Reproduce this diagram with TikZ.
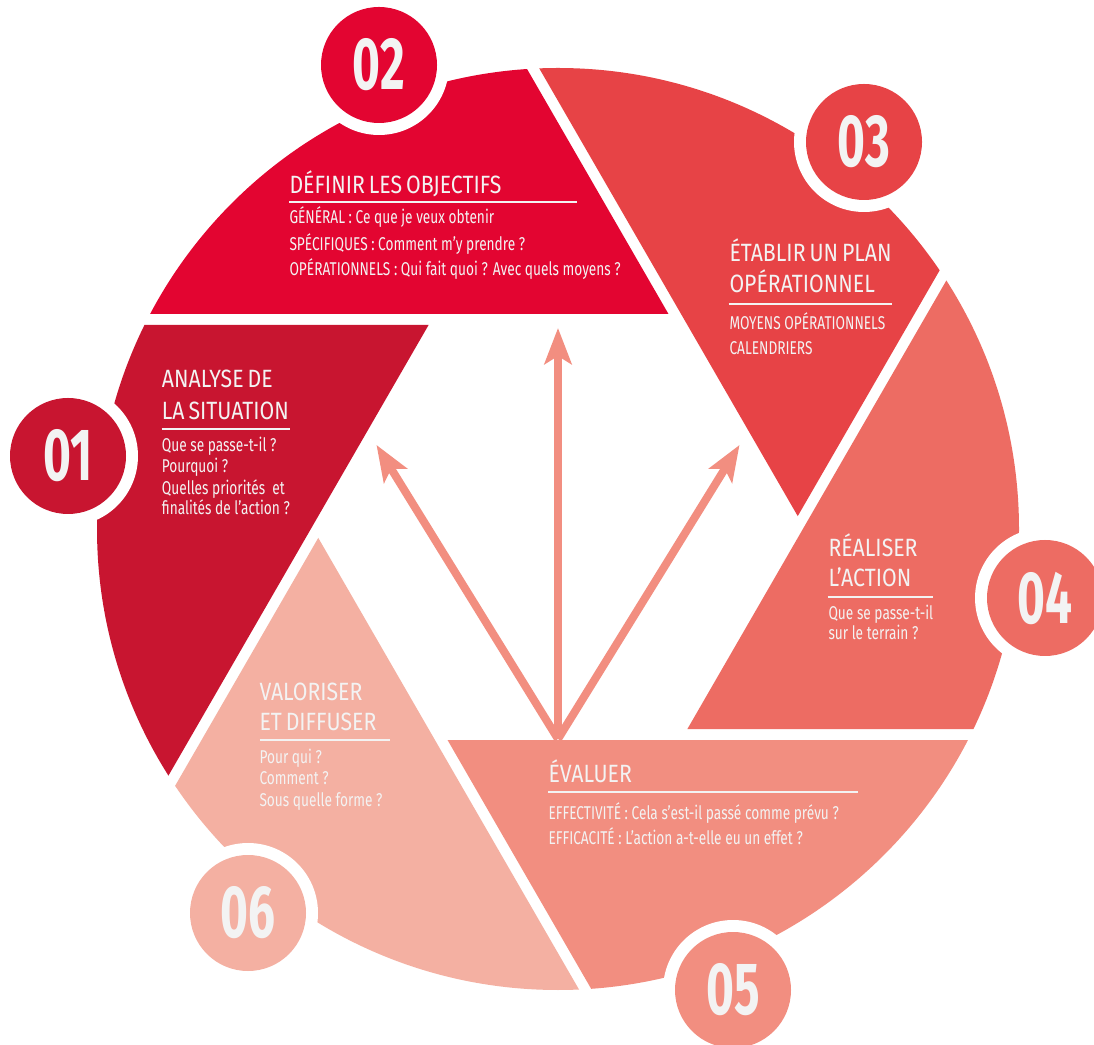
\documentclass[tikz,border=0pt]{standalone}
\usepackage{fontspec}
\setmainfont{Fira Sans}
\newfontfamily\titlef{Fira Sans}[FakeStretch=0.85,WordSpace=0.7]
\newfontfamily\bodyf{Fira Sans}[FakeStretch=0.74]
\newfontfamily\numf{Fira Sans}[FakeStretch=0.645]
\usetikzlibrary{arrows.meta}
\definecolor{cA}{HTML}{C81530}
\definecolor{cB}{HTML}{E30531}
\definecolor{cC}{HTML}{E74346}
\definecolor{cD}{HTML}{ED6C63}
\definecolor{cE}{HTML}{F28E80}
\definecolor{cF}{HTML}{F4B0A2}
\definecolor{txt}{HTML}{F3F3F3}
\tikzset{
  ttl/.style={anchor=base west, inner sep=0pt, text=txt, font=\titlef\fontsize{25}{25}\selectfont},
  bdy/.style={anchor=base west, inner sep=0pt, text=txt, font=\bodyf\fontsize{18.5}{18.5}\selectfont},
  numc/.style={circle, inner sep=0pt, minimum size=116pt, text=txt, font=\numf\bfseries\fontsize{74}{74}\selectfont},
  uline/.style={draw=txt, line width=2.4pt},
  arr/.style={draw=cE, line width=8pt, -{Stealth[length=36pt,width=27pt,inset=8pt]}},
}
\begin{document}
\begin{tikzpicture}[x=1pt,y=1pt]
\useasboundingbox (0,0) rectangle (1094,1044);
\fill[white] (0,0) rectangle (1094,1044);
\coordinate (H) at (558,517);
\coordinate (C) at (558,515);
\path (H) ++(62.6:240) coordinate (P2);
\path (H) ++(2.6:240) coordinate (P3);
\path (H) ++(-57.4:240) coordinate (P4);
\path (H) ++(-117.4:240) coordinate (P5);
\path (H) ++(-177.4:240) coordinate (P6);
\path (H) ++(122.6:240) coordinate (P1);
% blades
\begin{scope}
  \clip (C) circle (461);
  \fill[cB] (P2) -- ++(120:1200) -- ++(240:1200) -- cycle;
  \fill[cC] (P3) -- ++(60:1200) -- ++(180:1200) -- cycle;
  \fill[cD] (P4) -- ++(0:1200) -- ++(120:1200) -- cycle;
  \fill[cE] (P5) -- ++(-60:1200) -- ++(60:1200) -- cycle;
  \fill[cF] (P6) -- ++(-120:1200) -- ++(0:1200) -- cycle;
  \fill[cA] (P1) -- ++(180:1200) -- ++(300:1200) -- cycle;
\end{scope}
% arrows
\coordinate (src) at (558,305);
\coordinate (tU) at (558,716);
\coordinate (tL) at (376.5,599);
\coordinate (tR) at (739.5,599);
\draw[arr] (src) -- (tU);
\draw[arr] (src) -- (tL);
\draw[arr] (src) -- (tR);
% number badges
\coordinate (c1) at (68,588);
\coordinate (c2) at (379,979);
\coordinate (c3) at (864,902);
\coordinate (c4) at (1045,446);
\coordinate (c5) at (733,54);
\coordinate (c6) at (248,131);
\foreach \c in {c1,c2,c3,c4,c5,c6} { \fill[white] (\c) circle (70); }
\node[numc, fill=cA] (n1) at (c1) {01};
\node[numc, fill=cB] (n2) at (c2) {02};
\node[numc, fill=cC] (n3) at (c3) {03};
\node[numc, fill=cD] (n4) at (c4) {04};
\node[numc, fill=cE] (n5) at (c5) {05};
\node[numc, fill=cF] (n6) at (c6) {06};
% blade 02 text
\node[ttl] (t2a) at (289.3,850.7) {DÉFINIR LES OBJECTIFS};
\draw[uline] (289.3,842) -- (577,842);
\node[bdy] (t2b) at (289.3,820) {GÉNÉRAL : Ce que je veux obtenir};
\node[bdy] (t2c) at (289.3,793.3) {SPÉCIFIQUES : Comment m’y prendre ?};
\node[bdy] (t2d) at (289.3,768.7) {OPÉRATIONNELS : Qui fait quoi ? Avec quels moyens ?};
% blade 03 text
\node[ttl] (t3a) at (729.3,782.3) {ÉTABLIR UN PLAN};
\node[ttl] (t3b) at (729.3,751.3) {OPÉRATIONNEL};
\draw[uline] (728.5,739.7) -- (892,739.7);
\node[bdy] (t3c) at (729.3,714) {MOYENS OPÉRATIONNELS};
\node[bdy] (t3d) at (729.3,689.7) {CALENDRIERS};
% blade 01 text
\node[ttl] (t1a) at (161.7,656) {ANALYSE DE};
\node[ttl] (t1b) at (161.7,624.7) {LA SITUATION};
\draw[uline] (161.5,615) -- (289.5,615);
\node[bdy] (t1c) at (161.7,592.3) {Que se passe-t-il ?};
\node[bdy] (t1d) at (161.7,571.3) {Pourquoi ?};
\node[bdy] (t1e) at (161.7,549.7) {Quelles priorités\ \ et};
\node[bdy] (t1f) at (161.7,529) {finalités de l’action ?};
% blade 04 text
\node[ttl] (t4a) at (828.3,487.3) {RÉALISER};
\node[ttl] (t4b) at (828.3,457.3) {L’ACTION};
\draw[uline] (827.5,446.7) -- (933,446.7);
\node[bdy] (t4c) at (828.3,424.7) {Que se passe-t-il};
\node[bdy] (t4d) at (828.3,404) {sur le terrain ?};
% blade 05 text
\node[ttl] (t5a) at (548.3,261.3) {ÉVALUER};
\draw[uline] (548,251.7) -- (858,251.7);
\node[bdy] (t5b) at (548.3,224.7) {EFFECTIVITÉ : Cela s’est-il passé comme prévu ?};
\node[bdy] (t5c) at (548.3,199.7) {EFFICACITÉ : L’action a-t-elle eu un effet ?};
% blade 06 text
\node[ttl] (t6a) at (259.3,343) {VALORISER};
\node[ttl] (t6b) at (259.3,313.3) {ET DIFFUSER};
\draw[uline] (259.5,304) -- (390,304);
\node[bdy] (t6c) at (259.3,280.7) {Pour qui ?};
\node[bdy] (t6d) at (259.3,259) {Comment ?};
\node[bdy] (t6e) at (259.3,237.3) {Sous quelle forme ?};
\end{tikzpicture}
\end{document}
